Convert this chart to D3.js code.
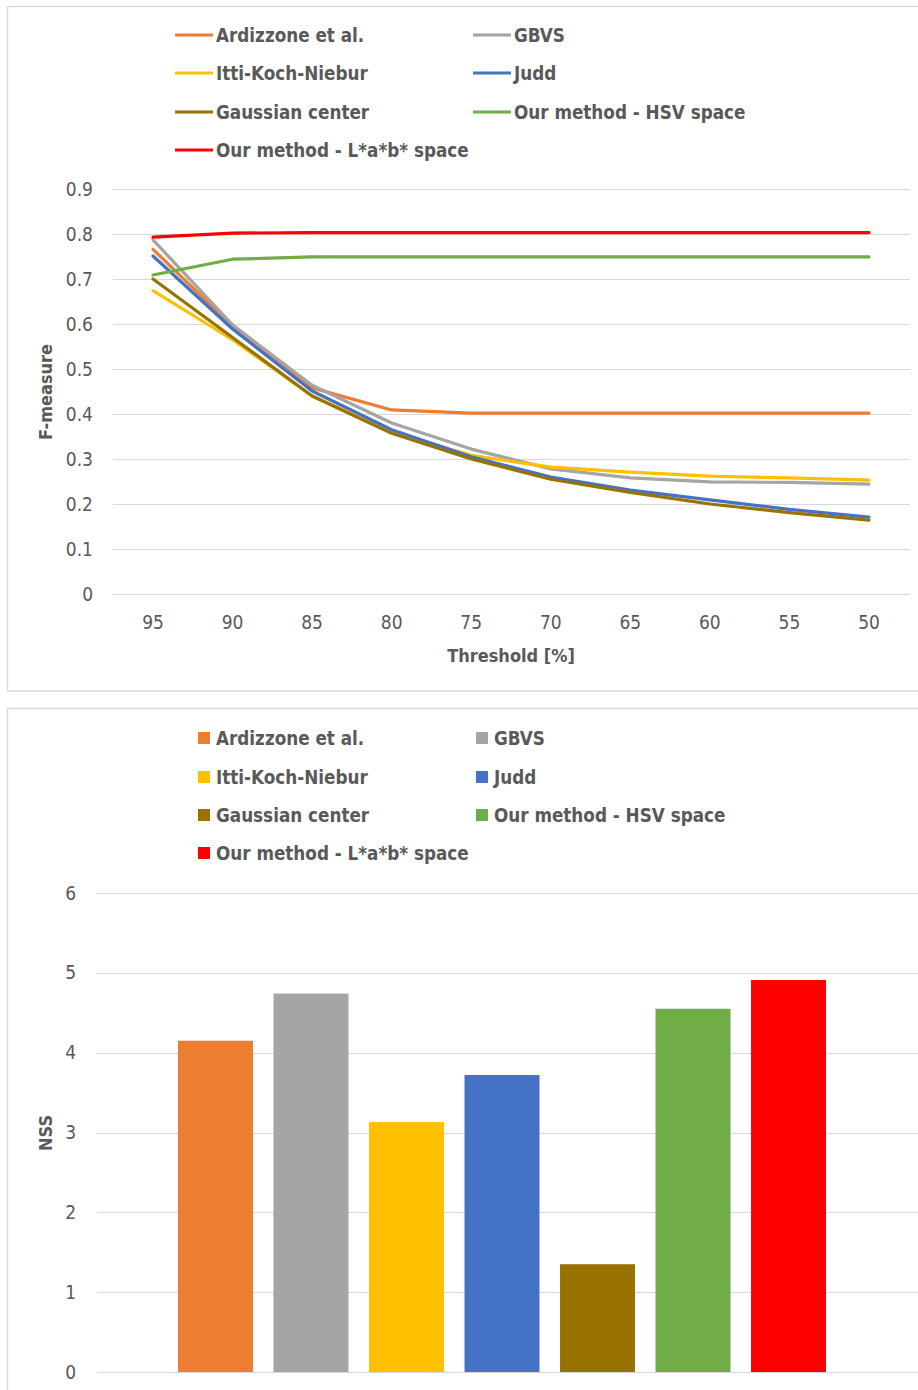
<!DOCTYPE html>
<html>
<head>
<meta charset="utf-8">
<script src="https://cdn.jsdelivr.net/npm/d3@7"></script>
<style>
body { margin: 0; background: #fff; }
svg { display: block; font-family: "DejaVu Sans Condensed", "Open Sans", sans-serif; }
</style>
</head>
<body>
<div id="chart"></div>
<script>
var methods = ["Ardizzone et al.", "GBVS", "Itti-Koch-Niebur", "Judd", "Gaussian center", "Our method - HSV space", "Our method - L*a*b* space"];
var colors = ["#ED7D31", "#A5A5A5", "#FFC000", "#4472C4", "#997300", "#70AD47", "#FF0000"];
var thresholds = ["95", "90", "85", "80", "75", "70", "65", "60", "55", "50"];

var ardizzone = [0.766, 0.595, 0.458, 0.409, 0.402, 0.402, 0.402, 0.402, 0.402, 0.402];
var gbvs      = [0.787, 0.598, 0.464, 0.380, 0.322, 0.278, 0.258, 0.249, 0.248, 0.244];
var itti      = [0.674, 0.565, 0.440, 0.360, 0.308, 0.282, 0.271, 0.262, 0.258, 0.253];
var judd      = [0.751, 0.589, 0.451, 0.365, 0.305, 0.260, 0.231, 0.209, 0.188, 0.171];
var gaussian  = [0.700, 0.570, 0.440, 0.357, 0.300, 0.255, 0.226, 0.200, 0.181, 0.164];
var hsv       = [0.709, 0.744, 0.749, 0.749, 0.749, 0.749, 0.749, 0.749, 0.749, 0.749];
var lab       = [0.793, 0.802, 0.803, 0.803, 0.803, 0.803, 0.803, 0.803, 0.803, 0.803];
var fTicks = [0, 0.1, 0.2, 0.3, 0.4, 0.5, 0.6, 0.7, 0.8, 0.9];

var nssValues = [4.15, 4.74, 3.13, 3.72, 1.35, 4.55, 4.91];
var nssTicks = [0, 1, 2, 3, 4, 5, 6];

var seriesData = [ardizzone, gbvs, itti, judd, gaussian, hsv, lab];

var textColor = "#595959";
var gridColor = "#d9d9d9";

var svg = d3.select("#chart").append("svg")
	.attr("width", 918)
	.attr("height", 1390);

// panel frames
svg.append("rect")
	.attr("x", 7.5).attr("y", 6.5).attr("width", 920).attr("height", 684.5)
	.attr("fill", "none").attr("stroke", gridColor).attr("stroke-width", 1.5);
svg.append("rect")
	.attr("x", 7.5).attr("y", 708.5).attr("width", 920).attr("height", 700)
	.attr("fill", "none").attr("stroke", gridColor).attr("stroke-width", 1.5);

// ---------- line chart ----------
var x = d3.scalePoint()
	.domain(thresholds)
	.range([153, 869]);

var y = d3.scaleLinear()
	.domain([0, 0.9])
	.range([594, 189]);

var lineChart = svg.append("g");

lineChart.selectAll("line.grid")
	.data(fTicks)
	.enter().append("line")
	.attr("class", "grid")
	.attr("x1", 113).attr("x2", 910)
	.attr("y1", function(d){ return Math.round(y(d)) + 0.5; })
	.attr("y2", function(d){ return Math.round(y(d)) + 0.5; })
	.attr("stroke", gridColor).attr("stroke-width", 1);

lineChart.selectAll("text.ytick")
	.data(fTicks)
	.enter().append("text")
	.attr("class", "ytick")
	.attr("x", 93)
	.attr("y", function(d){ return y(d); })
	.attr("dy", "0.35em")
	.attr("text-anchor", "end")
	.attr("fill", textColor)
	.style("font-size", "19px")
	.text(function(d){ return d === 0 ? "0" : d.toFixed(1); });

lineChart.selectAll("text.xtick")
	.data(thresholds)
	.enter().append("text")
	.attr("class", "xtick")
	.attr("x", function(d){ return x(d); })
	.attr("y", 629)
	.attr("text-anchor", "middle")
	.attr("fill", textColor)
	.style("font-size", "19px")
	.text(function(d){ return d; });

lineChart.append("text")
	.attr("x", 511).attr("y", 662)
	.attr("text-anchor", "middle")
	.attr("fill", textColor)
	.style("font-size", "18px")
	.style("font-weight", "bold")
	.text("Threshold [%]");

lineChart.append("text")
	.attr("transform", "translate(52,392) rotate(-90)")
	.attr("text-anchor", "middle")
	.attr("fill", textColor)
	.style("font-size", "18px")
	.style("font-weight", "bold")
	.text("F-measure");

var line = d3.line()
	.x(function(d, i){ return x(thresholds[i]); })
	.y(function(d){ return y(d); });

lineChart.selectAll("path.series")
	.data(seriesData)
	.enter().append("path")
	.attr("class", "series")
	.attr("d", function(d){ return line(d); })
	.attr("fill", "none")
	.attr("stroke", function(d, i){ return colors[i]; })
	.attr("stroke-width", 3.2)
	.attr("stroke-linejoin", "round")
	.attr("stroke-linecap", "round");

var legendCols = [175, 473];
var legendRowsTop = [35, 73, 112, 150];

var lg = lineChart.selectAll("g.leg")
	.data(methods)
	.enter().append("g")
	.attr("class", "leg")
	.attr("transform", function(d, i){
		return "translate(" + legendCols[i % 2] + "," + legendRowsTop[Math.floor(i / 2)] + ")";
	});
lg.append("line")
	.attr("x1", 0).attr("x2", 38)
	.attr("stroke", function(d, i){ return colors[i]; })
	.attr("stroke-width", 3);
lg.append("text")
	.attr("x", 41).attr("dy", "0.35em")
	.attr("fill", textColor)
	.style("font-size", "18.7px")
	.style("font-weight", "bold")
	.text(function(d){ return d; });

// ---------- bar chart ----------
var xb = d3.scaleBand()
	.domain(methods)
	.range([178, 826])
	.paddingInner(0.215)
	.paddingOuter(0);

var yb = d3.scaleLinear()
	.domain([0, 6])
	.range([1372, 893]);

var barChart = svg.append("g");

barChart.selectAll("line.grid")
	.data(nssTicks)
	.enter().append("line")
	.attr("class", "grid")
	.attr("x1", 97).attr("x2", 918)
	.attr("y1", function(d){ return Math.round(yb(d)) + 0.5; })
	.attr("y2", function(d){ return Math.round(yb(d)) + 0.5; })
	.attr("stroke", gridColor).attr("stroke-width", 1);

barChart.selectAll("text.ytick")
	.data(nssTicks)
	.enter().append("text")
	.attr("class", "ytick")
	.attr("x", 76)
	.attr("y", function(d){ return yb(d); })
	.attr("dy", "0.35em")
	.attr("text-anchor", "end")
	.attr("fill", textColor)
	.style("font-size", "19px")
	.text(function(d){ return d; });

barChart.append("text")
	.attr("transform", "translate(52,1133) rotate(-90)")
	.attr("text-anchor", "middle")
	.attr("fill", textColor)
	.style("font-size", "18px")
	.style("font-weight", "bold")
	.text("NSS");

barChart.selectAll("rect.bar")
	.data(nssValues)
	.enter().append("rect")
	.attr("class", "bar")
	.attr("x", function(d, i){ return xb(methods[i]); })
	.attr("width", xb.bandwidth())
	.attr("y", function(d){ return yb(d); })
	.attr("height", function(d){ return yb(0) - yb(d); })
	.attr("fill", function(d, i){ return colors[i]; });

var barLegCols = [198, 476];
var legendRowsBottom = [738, 777, 815, 853];

var lb = barChart.selectAll("g.leg")
	.data(methods)
	.enter().append("g")
	.attr("class", "leg")
	.attr("transform", function(d, i){
		return "translate(" + barLegCols[i % 2] + "," + legendRowsBottom[Math.floor(i / 2)] + ")";
	});
lb.append("rect")
	.attr("x", 0).attr("y", -6).attr("width", 12).attr("height", 12)
	.attr("fill", function(d, i){ return colors[i]; });
lb.append("text")
	.attr("x", 18).attr("dy", "0.35em")
	.attr("fill", textColor)
	.style("font-size", "18.7px")
	.style("font-weight", "bold")
	.text(function(d){ return d; });
</script>
</body>
</html>
